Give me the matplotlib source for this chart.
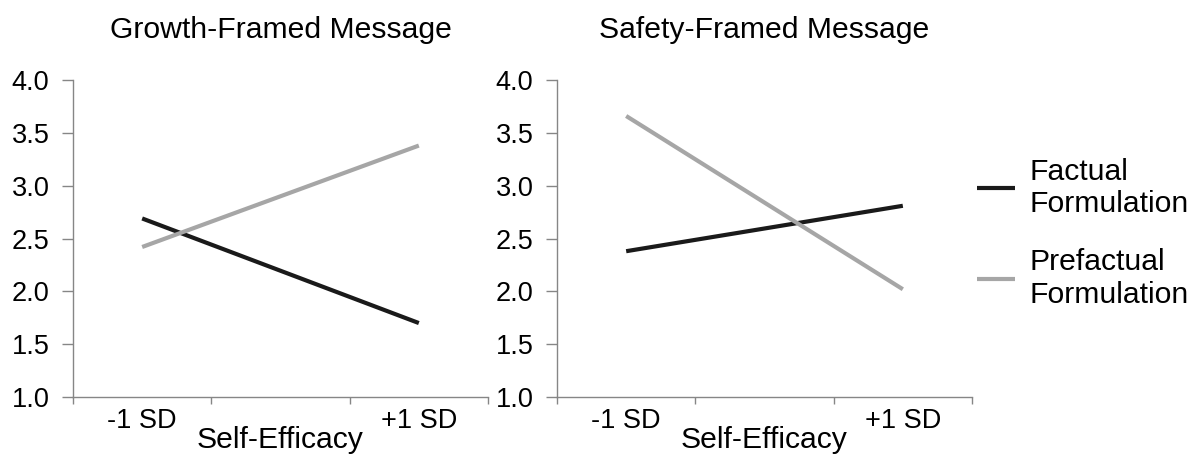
import matplotlib
matplotlib.use('Agg')
import matplotlib.pyplot as plt

# positions 0 and 2 are the two levels, 1 is an empty category (Excel style)
categories = ['-1 SD', '', '+1 SD']
panel_titles = ['Growth-Framed Message', 'Safety-Framed Message']
factual = [[2.69, 1.70], [2.38, 2.81]]
prefactual = [[2.42, 3.38], [3.66, 2.02]]
y_ticks = [1.0, 1.5, 2.0, 2.5, 3.0, 3.5, 4.0]

plt.rcParams['font.family'] = ['Liberation Sans', 'DejaVu Sans']

fig = plt.figure(figsize=(11.97, 4.62), dpi=100)
w = 415 / 1197
axes = [fig.add_axes([73 / 1197, 0.1407, w, 0.686]),
        fig.add_axes([557 / 1197, 0.1407, w, 0.686])]

for i, ax in enumerate(axes):
    xs = [0, 2]
    l1, = ax.plot(xs, factual[i], color='#1a1a1a', lw=3.0, solid_capstyle='butt',
                  label='Factual\nFormulation')
    l2, = ax.plot(xs, prefactual[i], color='#a6a6a6', lw=3.0, solid_capstyle='butt',
                  label='Prefactual\nFormulation')
    ax.set_xlim(-0.5, 2.5)
    ax.set_ylim(1.0, 4.0)
    ax.set_yticks(y_ticks)
    ax.set_yticklabels(['%.1f' % v for v in y_ticks], fontsize=19.5)
    ax.set_xticks([-0.5, 0.5, 1.5, 2.5])
    ax.set_xticklabels([])
    ax.set_xticks([0, 2], minor=True)
    ax.set_xticklabels(['-1 SD', '+1 SD'], minor=True, fontsize=19.5)
    ax.tick_params(axis='x', which='minor', length=0, pad=8)
    ax.tick_params(axis='x', which='major', length=5, color='#868686', width=1)
    ax.tick_params(axis='y', length=8, color='#868686', width=1, pad=9)
    for s in ['top', 'right']:
        ax.spines[s].set_visible(False)
    for s in ['left', 'bottom']:
        ax.spines[s].set_color('#868686')
        ax.spines[s].set_linewidth(1)
    ax.set_title(panel_titles[i], fontsize=21.7, pad=30)
    ax.set_xlabel('Self-Efficacy', fontsize=21.7, labelpad=-6)

fig.legend(handles=[l1, l2], loc='center left', bbox_to_anchor=(977 / 1197, 0.495),
           frameon=False, fontsize=21.7, handlelength=1.25, handletextpad=0.5,
           labelspacing=1.0, borderpad=0, borderaxespad=0)

fig.savefig('out.png', dpi=100)
